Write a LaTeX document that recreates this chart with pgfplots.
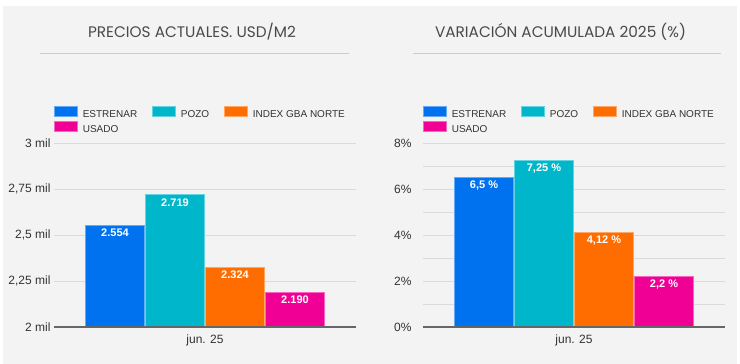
\documentclass[border=0pt]{standalone}
\usepackage{fontspec}
\setmainfont{Liberation Sans}
\newfontfamily\titlefont{Poppins}
\usepackage{pgfplots}
\pgfplotsset{compat=1.18}
\definecolor{cBlue}{HTML}{0072F0}
\definecolor{cTeal}{HTML}{00B6CB}
\definecolor{cOrange}{HTML}{FF6D00}
\definecolor{cPink}{HTML}{F10096}
\definecolor{bg}{HTML}{F3F3F3}
\definecolor{gridc}{HTML}{DADADA}
\definecolor{txt}{HTML}{333333}
\definecolor{titlec}{HTML}{4A4A4A}
\definecolor{sepc}{HTML}{CCCCCC}
\definecolor{axisc}{HTML}{666666}

\pgfplotsset{
  panel/.style={
    scale only axis, width=302pt, height=184pt,
    ybar=1pt, bar width=59pt,
    xmin=-151, xmax=151,
    xtick={0}, xticklabels={jun. 25},
    major tick length=0pt, minor tick length=0pt,
    axis line style={draw=none},
    ymajorgrids, grid style={gridc, line width=0.9pt},
    tick label style={font=\fontsize{12}{14}\selectfont, text=txt},
    xticklabel style={yshift=-4pt},
    nodes near coords, point meta=explicit symbolic,
    every node near coord/.append style={anchor=north, font=\fontsize{11}{13}\selectfont\bfseries, text=white},
    legend columns=3, legend cell align=left,
    legend style={at={(axis description cs:0,1)}, anchor=south west, yshift=7pt,
      draw=none, fill=none, inner sep=0pt,
      font=\fontsize{10}{12}\selectfont, text=txt,
      /tikz/every odd column/.style={column sep=3pt},
      /tikz/every even column/.style={column sep=13pt},
      row sep=0pt},
    legend image code/.code={\fill[##1] (0pt,-1.5pt) rectangle (23pt,8.5pt);},
  },
  bblue/.style={fill=cBlue, draw=cBlue!60!white, line width=0.6pt},
  bteal/.style={fill=cTeal, draw=cTeal!60!white, line width=0.6pt},
  borange/.style={fill=cOrange, draw=cOrange!60!white, line width=0.6pt},
  bpink/.style={fill=cPink, draw=cPink!60!white, line width=0.6pt},
}

\begin{document}
\begin{tikzpicture}
\useasboundingbox (0pt,0pt) rectangle (740pt,364pt);
\fill[white] (0pt,0pt) rectangle (740pt,364pt);
\fill[bg] (3pt,0pt) rectangle (737pt,358pt);

% titles
\node[anchor=base, font=\titlefont\fontsize{15.3}{17}\selectfont, text=titlec] at (192pt,326.7pt) {PRECIOS ACTUALES. USD/M2};
\node[anchor=base, font=\titlefont\fontsize{15.3}{17}\selectfont, text=titlec] at (560.5pt,326.7pt) {VARIACIÓN ACUMULADA 2025 (\%)};
\draw[sepc, line width=1.3pt] (40pt,310.7pt) -- (349pt,310.7pt);
\draw[sepc, line width=1.3pt] (413pt,310.7pt) -- (721pt,310.7pt);

% left chart
\begin{axis}[panel, at={(54pt,37pt)}, anchor=south west,
  ymin=2000, ymax=3000,
  ytick={2000,2250,2500,2750,3000},
  yticklabels={2 mil,{2,25 mil},{2,5 mil},{2,75 mil},3 mil},
]
\addplot[bblue] coordinates {(0,2554) [2.554]};
\addplot[bteal] coordinates {(0,2719) [2.719]};
\addplot[borange] coordinates {(0,2324) [2.324]};
\addplot[bpink] coordinates {(0,2190) [2.190]};
\legend{ESTRENAR,POZO,INDEX GBA NORTE,USADO}
\end{axis}

% right chart
\begin{axis}[panel, at={(423pt,37pt)}, anchor=south west,
  ymin=0, ymax=8,
  ytick={0,2,4,6,8},
  yticklabels={0\%,2\%,4\%,6\%,8\%},
  minor ytick={1,3,5,7}, yminorgrids, minor grid style={gridc, line width=0.9pt},
  yticklabel style={xshift=-8pt},
]
\addplot[bblue] coordinates {(0,6.5) [{6,5 \%}]};
\addplot[bteal] coordinates {(0,7.25) [{7,25 \%}]};
\addplot[borange] coordinates {(0,4.12) [{4,12 \%}]};
\addplot[bpink] coordinates {(0,2.2) [{2,2 \%}]};
\legend{ESTRENAR,POZO,INDEX GBA NORTE,USADO}
\end{axis}

\draw[axisc, line width=1.3pt] (54pt,37pt) -- (356pt,37pt);
\draw[axisc, line width=1.3pt] (423pt,37pt) -- (725pt,37pt);
\end{tikzpicture}
\end{document}
